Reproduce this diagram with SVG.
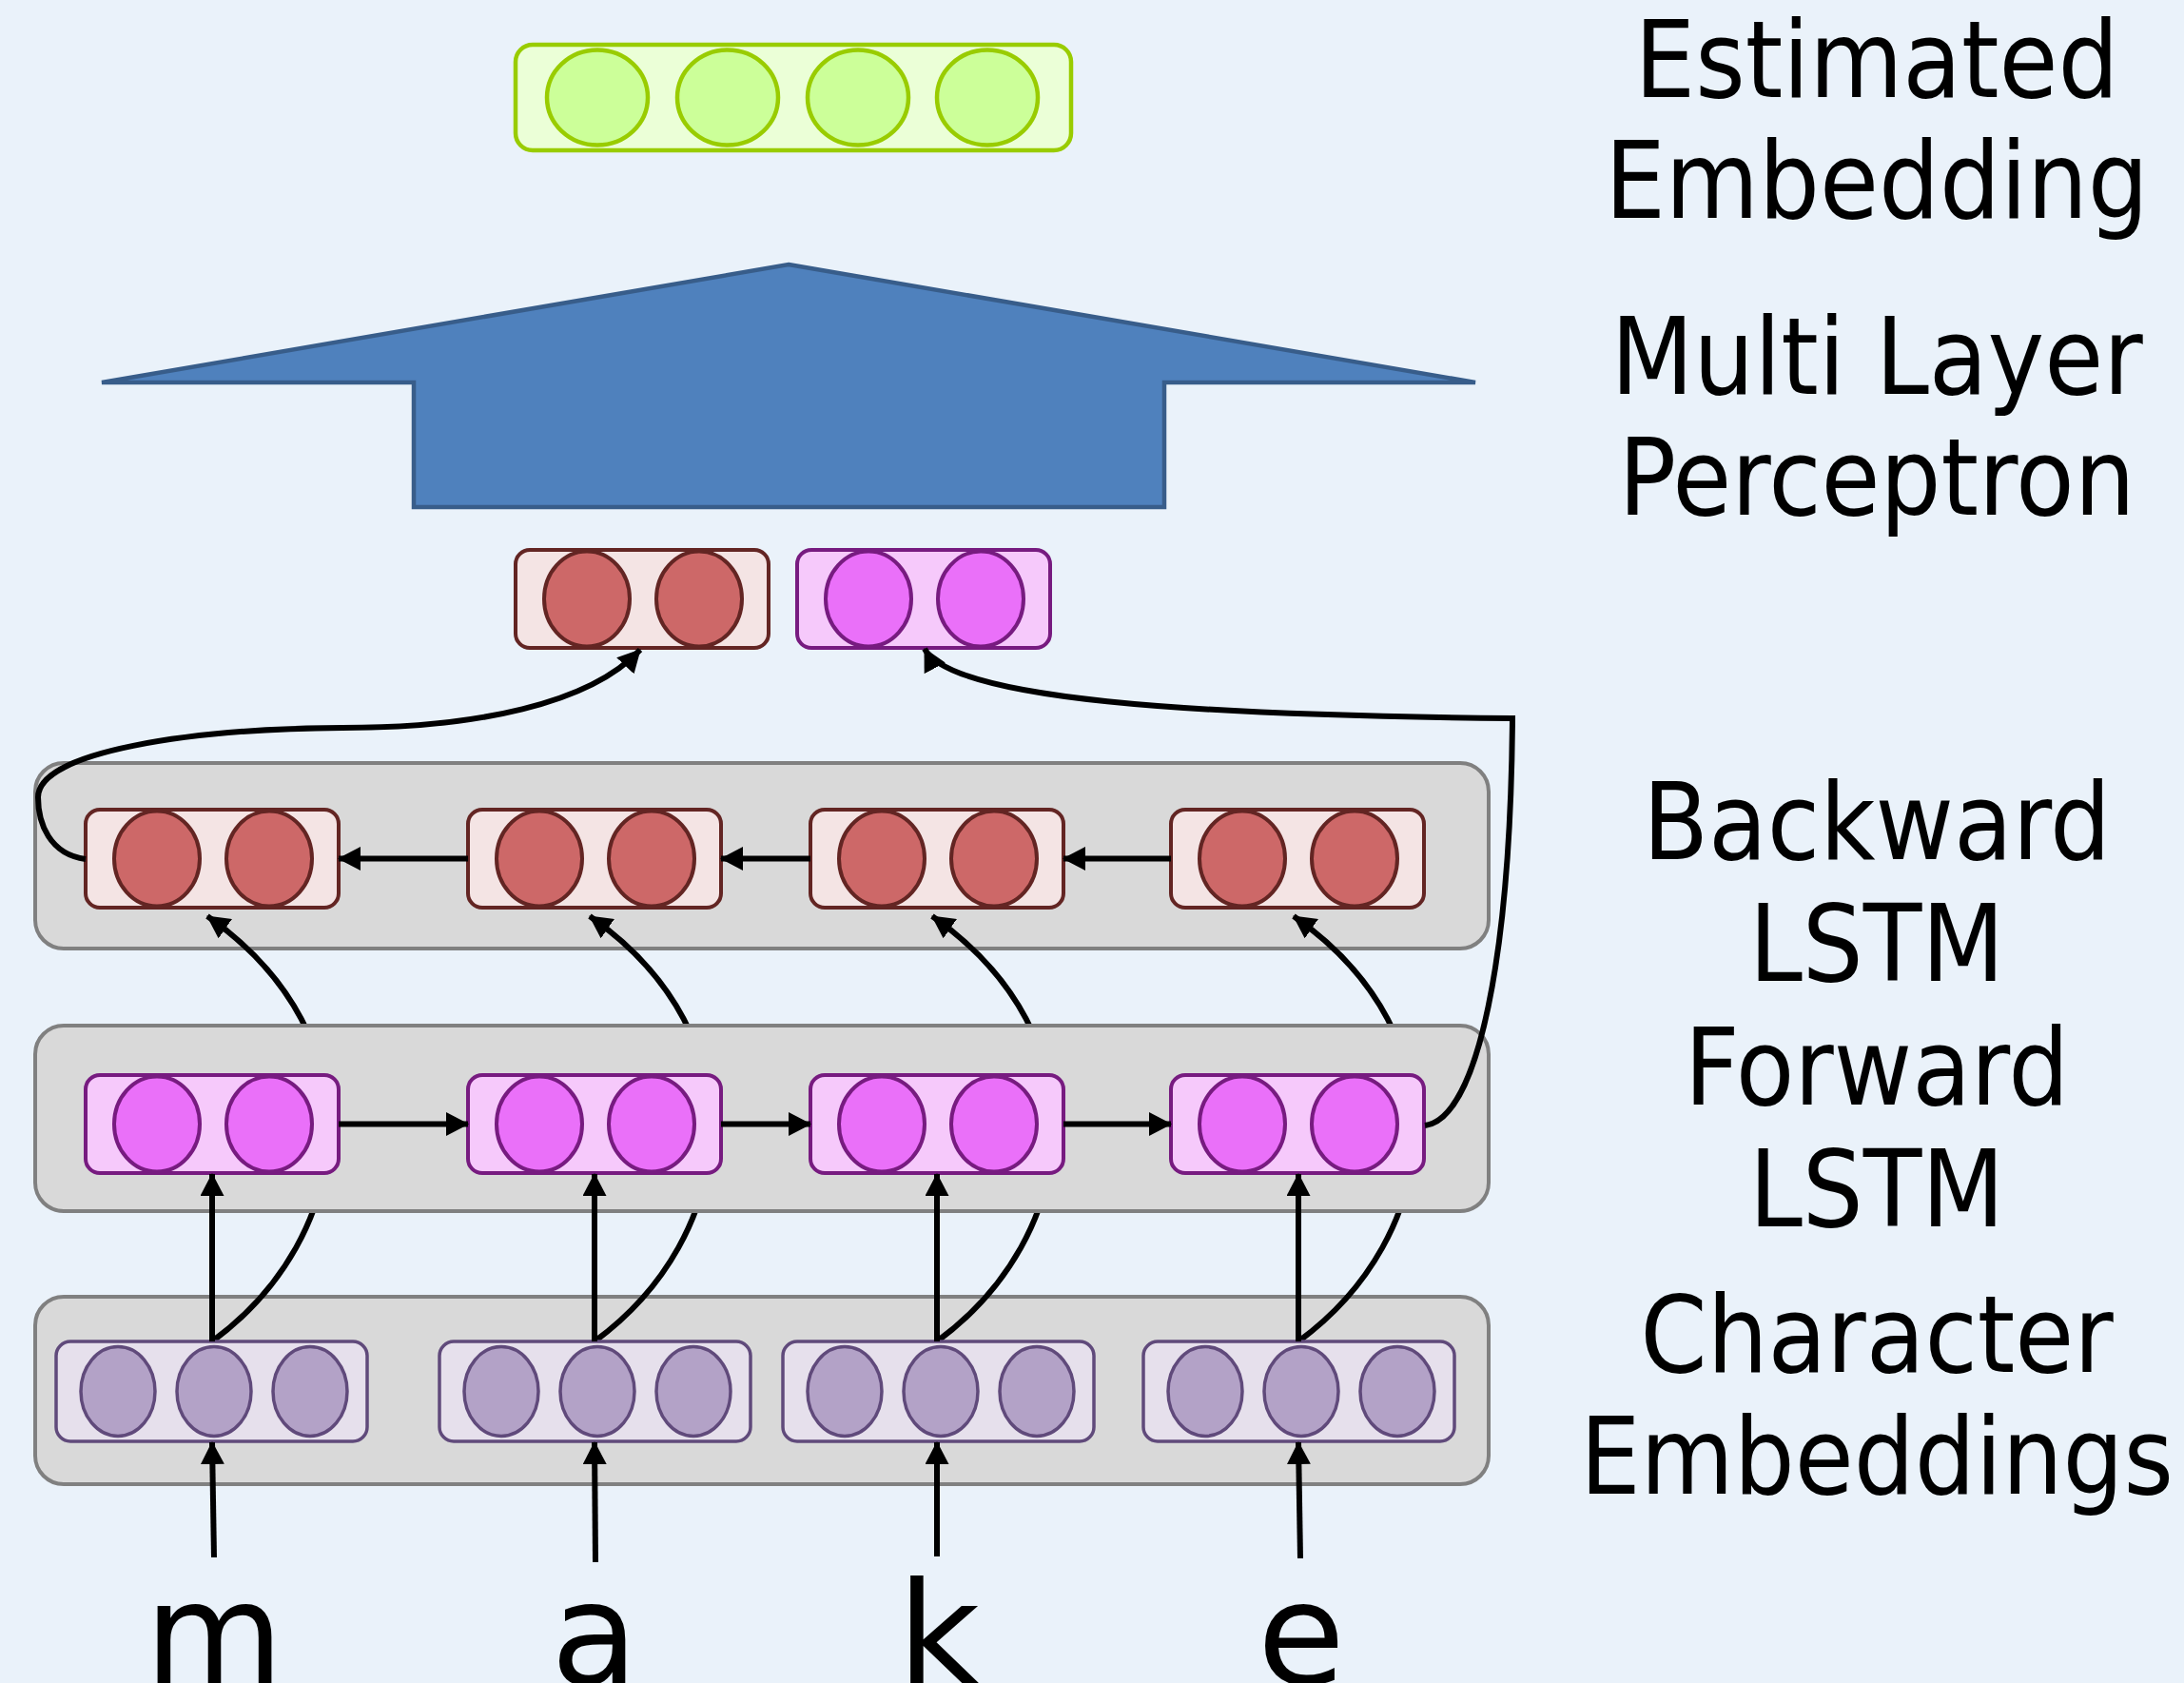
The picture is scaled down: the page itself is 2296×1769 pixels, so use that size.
<svg xmlns="http://www.w3.org/2000/svg" width="2296" height="1769" viewBox="0 0 2296 1769">
<defs>
<style>
.grp { fill:#d9d9d9; stroke:#808080; stroke-width:4; }
.red-box { fill:#f4e4e4; stroke:#632523; stroke-width:4; }
.red-cell { fill:#cd6868; stroke:#632523; stroke-width:4; }
.mag-box { fill:#f6c9fb; stroke:#771b80; stroke-width:4; }
.mag-cell { fill:#ea70f9; stroke:#771b80; stroke-width:4; }
.chr-box { fill:#e6e0ec; stroke:#604a7b; stroke-width:3.5; }
.chr-cell { fill:#b3a2c7; stroke:#604a7b; stroke-width:3.5; }
.grn-box { fill:#ebffd7; stroke:#99cc00; stroke-width:4.5; }
.grn-cell { fill:#ccff99; stroke:#99cc00; stroke-width:4.5; }
.edge { fill:none; stroke:#000; stroke-width:6; stroke-linejoin:miter; }
.arrow { marker-end:url(#ah); }
.label { font-family:"DejaVu Sans Condensed","DejaVu Sans",sans-serif; font-size:112px; text-anchor:middle; fill:#000; }
.letter { font-family:"DejaVu Sans",sans-serif; font-size:150px; text-anchor:middle; fill:#000; }
</style>
<marker id="ah" markerUnits="userSpaceOnUse" markerWidth="24" markerHeight="25" viewBox="0 0 24 25" refX="23" refY="12.5" orient="auto">
<path d="M0,0 L24,12.5 L0,25 z" fill="#000"/>
</marker>
</defs>
<rect x="0" y="0" width="2296" height="1769" fill="#eaf2fa"/>

<g id="layer-backward-bg"><rect class="grp" x="37" y="802" width="1528" height="195" rx="30"/></g>
<g id="layer-char-bg"><rect class="grp" x="37" y="1363" width="1528" height="197" rx="30"/></g>

<g id="connectors-char-to-backward">
<path class="edge arrow" d="M223,1410 C373,1300 400,1090 218,963"/>
<path class="edge arrow" d="M625,1410 C775,1300 802,1090 620,963"/>
<path class="edge arrow" d="M985,1410 C1135,1300 1162,1090 980,963"/>
<path class="edge arrow" d="M1365,1410 C1515,1300 1542,1090 1360,963"/>
</g>

<g id="layer-forward-bg"><rect class="grp" x="37" y="1078" width="1528" height="195" rx="30"/></g>

<g id="mlp"><polygon points="829,278 1551,402 1224,402 1224,533 435,533 435,402 107,402" fill="#4f81bd" stroke="#385d8a" stroke-width="4.5" stroke-linejoin="miter"/></g>

<g id="estimated-embedding">
<rect class="grn-box" x="542" y="47" width="584" height="111" rx="18"/>
<ellipse class="grn-cell" cx="628" cy="102.5" rx="53" ry="50"/>
<ellipse class="grn-cell" cx="765" cy="102.5" rx="53" ry="50"/>
<ellipse class="grn-cell" cx="902" cy="102.5" rx="53" ry="50"/>
<ellipse class="grn-cell" cx="1038" cy="102.5" rx="53" ry="50"/>
</g>

<g id="final-backward">
<rect class="red-box" x="542" y="578" width="266" height="103" rx="15"/>
<ellipse class="red-cell" cx="617" cy="629.5" rx="45" ry="50"/>
<ellipse class="red-cell" cx="735" cy="629.5" rx="45" ry="50"/>
</g>
<g id="final-forward">
<rect class="mag-box" x="838" y="578" width="266" height="103" rx="15"/>
<ellipse class="mag-cell" cx="913" cy="629.5" rx="45" ry="50"/>
<ellipse class="mag-cell" cx="1031" cy="629.5" rx="45" ry="50"/>
</g>

<g id="bw1"><rect class="red-box" x="90" y="851" width="266" height="103" rx="15"/><ellipse class="red-cell" cx="165" cy="902.5" rx="45" ry="50"/><ellipse class="red-cell" cx="283" cy="902.5" rx="45" ry="50"/></g>
<g id="bw2"><rect class="red-box" x="492" y="851" width="266" height="103" rx="15"/><ellipse class="red-cell" cx="567" cy="902.5" rx="45" ry="50"/><ellipse class="red-cell" cx="685" cy="902.5" rx="45" ry="50"/></g>
<g id="bw3"><rect class="red-box" x="852" y="851" width="266" height="103" rx="15"/><ellipse class="red-cell" cx="927" cy="902.5" rx="45" ry="50"/><ellipse class="red-cell" cx="1045" cy="902.5" rx="45" ry="50"/></g>
<g id="bw4"><rect class="red-box" x="1231" y="851" width="266" height="103" rx="15"/><ellipse class="red-cell" cx="1306" cy="902.5" rx="45" ry="50"/><ellipse class="red-cell" cx="1424" cy="902.5" rx="45" ry="50"/></g>

<g id="fw1"><rect class="mag-box" x="90" y="1130" width="266" height="103" rx="15"/><ellipse class="mag-cell" cx="165" cy="1181.5" rx="45" ry="50"/><ellipse class="mag-cell" cx="283" cy="1181.5" rx="45" ry="50"/></g>
<g id="fw2"><rect class="mag-box" x="492" y="1130" width="266" height="103" rx="15"/><ellipse class="mag-cell" cx="567" cy="1181.5" rx="45" ry="50"/><ellipse class="mag-cell" cx="685" cy="1181.5" rx="45" ry="50"/></g>
<g id="fw3"><rect class="mag-box" x="852" y="1130" width="266" height="103" rx="15"/><ellipse class="mag-cell" cx="927" cy="1181.5" rx="45" ry="50"/><ellipse class="mag-cell" cx="1045" cy="1181.5" rx="45" ry="50"/></g>
<g id="fw4"><rect class="mag-box" x="1231" y="1130" width="266" height="103" rx="15"/><ellipse class="mag-cell" cx="1306" cy="1181.5" rx="45" ry="50"/><ellipse class="mag-cell" cx="1424" cy="1181.5" rx="45" ry="50"/></g>

<g id="ch1"><rect class="chr-box" x="59" y="1410" width="327" height="105" rx="15"/><ellipse class="chr-cell" cx="124" cy="1462.5" rx="39" ry="47"/><ellipse class="chr-cell" cx="225" cy="1462.5" rx="39" ry="47"/><ellipse class="chr-cell" cx="326" cy="1462.5" rx="39" ry="47"/></g>
<g id="ch2"><rect class="chr-box" x="462" y="1410" width="327" height="105" rx="15"/><ellipse class="chr-cell" cx="527" cy="1462.5" rx="39" ry="47"/><ellipse class="chr-cell" cx="628" cy="1462.5" rx="39" ry="47"/><ellipse class="chr-cell" cx="729" cy="1462.5" rx="39" ry="47"/></g>
<g id="ch3"><rect class="chr-box" x="823" y="1410" width="327" height="105" rx="15"/><ellipse class="chr-cell" cx="888" cy="1462.5" rx="39" ry="47"/><ellipse class="chr-cell" cx="989" cy="1462.5" rx="39" ry="47"/><ellipse class="chr-cell" cx="1090" cy="1462.5" rx="39" ry="47"/></g>
<g id="ch4"><rect class="chr-box" x="1202" y="1410" width="327" height="105" rx="15"/><ellipse class="chr-cell" cx="1267" cy="1462.5" rx="39" ry="47"/><ellipse class="chr-cell" cx="1368" cy="1462.5" rx="39" ry="47"/><ellipse class="chr-cell" cx="1469" cy="1462.5" rx="39" ry="47"/></g>

<g id="connectors">
<path class="edge arrow" d="M492,902.5 L356,902.5"/>
<path class="edge arrow" d="M852,902.5 L758,902.5"/>
<path class="edge arrow" d="M1231,902.5 L1118,902.5"/>
<path class="edge arrow" d="M356,1181.5 L492,1181.5"/>
<path class="edge arrow" d="M758,1181.5 L852,1181.5"/>
<path class="edge arrow" d="M1118,1181.5 L1231,1181.5"/>
<path class="edge arrow" d="M223,1410 L223,1234"/>
<path class="edge arrow" d="M625,1410 L625,1234"/>
<path class="edge arrow" d="M985,1410 L985,1234"/>
<path class="edge arrow" d="M1365,1410 L1365,1234"/>
<path class="edge arrow" d="M225,1637 L223,1516"/>
<path class="edge arrow" d="M626,1642 L625,1516"/>
<path class="edge arrow" d="M985,1636 L985,1516"/>
<path class="edge arrow" d="M1367,1638 L1365,1516"/>
<path class="edge arrow" d="M90,903 C52,898 40,865 40,838 C40,790 200,766 360,765 C500,765 620,740 673,683"/>
<path class="edge arrow" d="M1498,1183 C1555,1175 1588,1000 1590,755 C1250,752 1000,735 972,682"/>
</g>

<g id="labels">
<text class="label" x="1973" y="102">Estimated</text>
<text class="label" x="1973" y="229">Embedding</text>
<text class="label" x="1973" y="414">Multi Layer</text>
<text class="label" x="1973" y="541">Perceptron</text>
<text class="label" x="1973" y="903">Backward</text>
<text class="label" x="1973" y="1031">LSTM</text>
<text class="label" x="1973" y="1161">Forward</text>
<text class="label" x="1973" y="1289">LSTM</text>
<text class="label" x="1973" y="1442">Character</text>
<text class="label" x="1973" y="1570">Embeddings</text>
<text class="letter" x="225" y="1770">m</text>
<text class="letter" x="625" y="1770">a</text>
<text class="letter" x="987" y="1770">k</text>
<text class="letter" x="1368" y="1770">e</text>
</g>
</svg>
